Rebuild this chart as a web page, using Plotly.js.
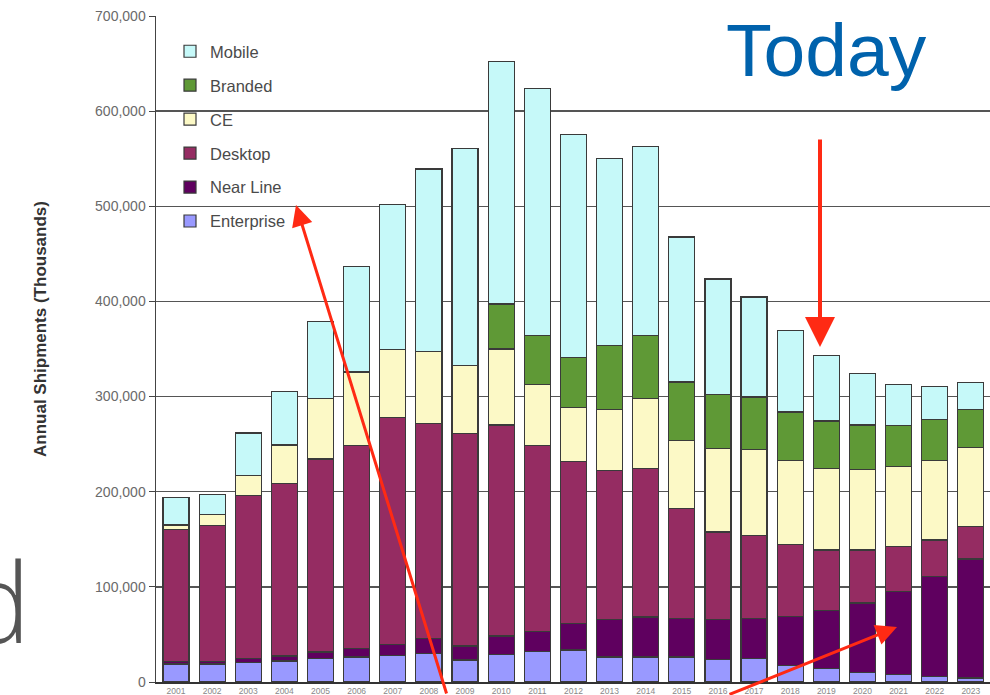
<!DOCTYPE html>
<html>
<head>
<meta charset="utf-8">
<script src="https://cdn.plot.ly/plotly-3.0.1.min.js"></script>
<style>
  html, body { margin: 0; padding: 0; background: #ffffff; }
  #chart { width: 990px; height: 695px; }
</style>
</head>
<body>
<div id="chart"></div>
<script>
// ---- Data (annual shipments, thousands) ----
const years = ['2001','2002','2003','2004','2005','2006','2007','2008','2009','2010','2011','2012',
               '2013','2014','2015','2016','2017','2018','2019','2020','2021','2022','2023'];

const enterprise = [19000, 19000, 20500, 22000, 24600, 26300, 27700, 29800, 23200, 29100, 31900, 33700,
                    26300, 26300, 26300, 24000, 24300, 17300, 14400, 10200, 7700, 5600, 4200];
const nearLine   = [2500, 2500, 4000, 5300, 7000, 8800, 11900, 16200, 14700, 19300, 21100, 27700,
                    39000, 42100, 40400, 41500, 42200, 51700, 61000, 72900, 87700, 105000, 125000];
const desktop    = [138500, 143400, 171500, 181000, 202800, 213400, 238100, 225400, 223400, 221800, 195400, 170500,
                    156900, 155800, 116000, 92200, 87400, 75700, 63300, 55600, 46900, 38700, 34200];
const ce         = [5000, 11000, 21000, 40800, 63400, 77400, 71400, 75600, 71400, 79800, 64500, 56400,
                    64100, 73400, 71300, 87600, 90500, 88000, 85600, 84500, 84500, 83400, 82700];
const branded    = [0, 0, 0, 0, 0, 0, 0, 0, 0, 47200, 51200, 52800,
                    67700, 66500, 61300, 56500, 55200, 51100, 50000, 46900, 42900, 43400, 40500];
const mobile     = [29000, 21000, 44700, 56000, 81200, 110800, 152700, 192200, 228200, 255200, 259300, 234700,
                    196400, 198800, 152400, 121800, 105000, 85600, 68700, 54200, 43300, 34500, 28200];

const seriesNames  = ['Enterprise', 'Near Line', 'Desktop', 'CE', 'Branded', 'Mobile'];
const seriesValues = [enterprise, nearLine, desktop, ce, branded, mobile];
const seriesColors = ['#9999ff', '#5f005f', '#952c62', '#fcf9c6', '#5f9936', '#c6f9f9'];

const yTicks = [0, 100000, 200000, 300000, 400000, 500000, 600000, 700000];
const yTitle = 'Annual Shipments (Thousands)';

// ---- Layout geometry helpers (pixels -> paper) ----
const W = 990, H = 695;
const M = { l: 156, r: 0, t: 16, b: 13 };
const PW = W - M.l - M.r, PH = H - M.t - M.b;
const px = x => (x - M.l) / PW;
const py = y => (H - M.b - y) / PH;

const traces = seriesNames.map((name, i) => ({
  type: 'bar',
  name: name,
  x: years,
  y: seriesValues[i],
  legendgroup: name,
  legendrank: seriesNames.length - i,
  marker: { color: seriesColors[i], line: { color: '#3a3a3a', width: 1.2 } },
  hoverinfo: 'x+y+name'
}));

const redArrow = (tipX, tipY, tailX, tailY, width, size) => ({
  xref: 'paper', yref: 'paper',
  x: px(tipX), y: py(tipY),
  axref: 'pixel', ayref: 'pixel',
  ax: tailX - tipX, ay: tailY - tipY,
  text: '', showarrow: true,
  arrowhead: 2, arrowsize: size, arrowwidth: width,
  arrowcolor: '#ff2a14', standoff: 0, startstandoff: 0
});

const layout = {
  width: W, height: H,
  margin: M,
  paper_bgcolor: '#ffffff',
  plot_bgcolor: '#ffffff',
  barmode: 'stack',
  bargap: 0.28,
  font: { family: 'Liberation Sans, Arial, sans-serif', color: '#444444' },
  showlegend: true,
  legend: {
    x: px(170), y: py(34), xanchor: 'left', yanchor: 'top',
    traceorder: 'grouped',
    tracegroupgap: 9.5,
    bgcolor: 'rgba(0,0,0,0)',
    font: { size: 16.5, color: '#4a4a4a', family: 'Liberation Sans, Arial, sans-serif' },
    itemwidth: 30
  },
  xaxis: {
    type: 'category',
    range: [-0.553, 22.53],
    showgrid: false,
    showline: true, linecolor: '#333333', linewidth: 1.5,
    ticks: '',
    ticklabelstandoff: 0,
    tickfont: { size: 8.5, color: '#888888' },
    fixedrange: true
  },
  yaxis: {
    range: [0, 700000],
    tickvals: yTicks,
    tickformat: ',d',
    showgrid: true, gridcolor: '#555555', gridwidth: 1.3,
    showline: true, linecolor: '#444444', linewidth: 1.5,
    ticks: 'outside', ticklen: 6, tickcolor: '#444444',
    tickfont: { size: 14, color: '#6a6a6a' },
    zeroline: false,
    fixedrange: true
  },
  annotations: [
    {
      xref: 'paper', yref: 'paper',
      x: px(40), y: py(329), xanchor: 'center', yanchor: 'middle',
      text: yTitle, textangle: -90, showarrow: false,
      font: { size: 17, color: '#333333', weight: 'bold' }
    },
    {
      xref: 'paper', yref: 'paper',
      x: px(724), y: py(50), xanchor: 'left', yanchor: 'middle',
      text: 'Today', showarrow: false,
      font: { size: 75, color: '#0062ac', family: 'Liberation Sans, Arial, sans-serif' }
    },
    {
      xref: 'paper', yref: 'paper',
      x: px(32), y: py(600), xanchor: 'right', yanchor: 'middle',
      text: 'd', showarrow: false,
      font: { size: 110, color: '#555555', family: 'Open Sans, sans-serif', weight: 300 }
    },
    redArrow(296, 205, 447, 700, 3, 1.4),
    redArrow(820, 347, 820, 138, 4, 1.5),
    redArrow(897, 627, 728, 700, 3, 1.4)
  ]
};

Plotly.newPlot('chart', traces, layout, { displayModeBar: false, staticPlot: true });
</script>
</body>
</html>
